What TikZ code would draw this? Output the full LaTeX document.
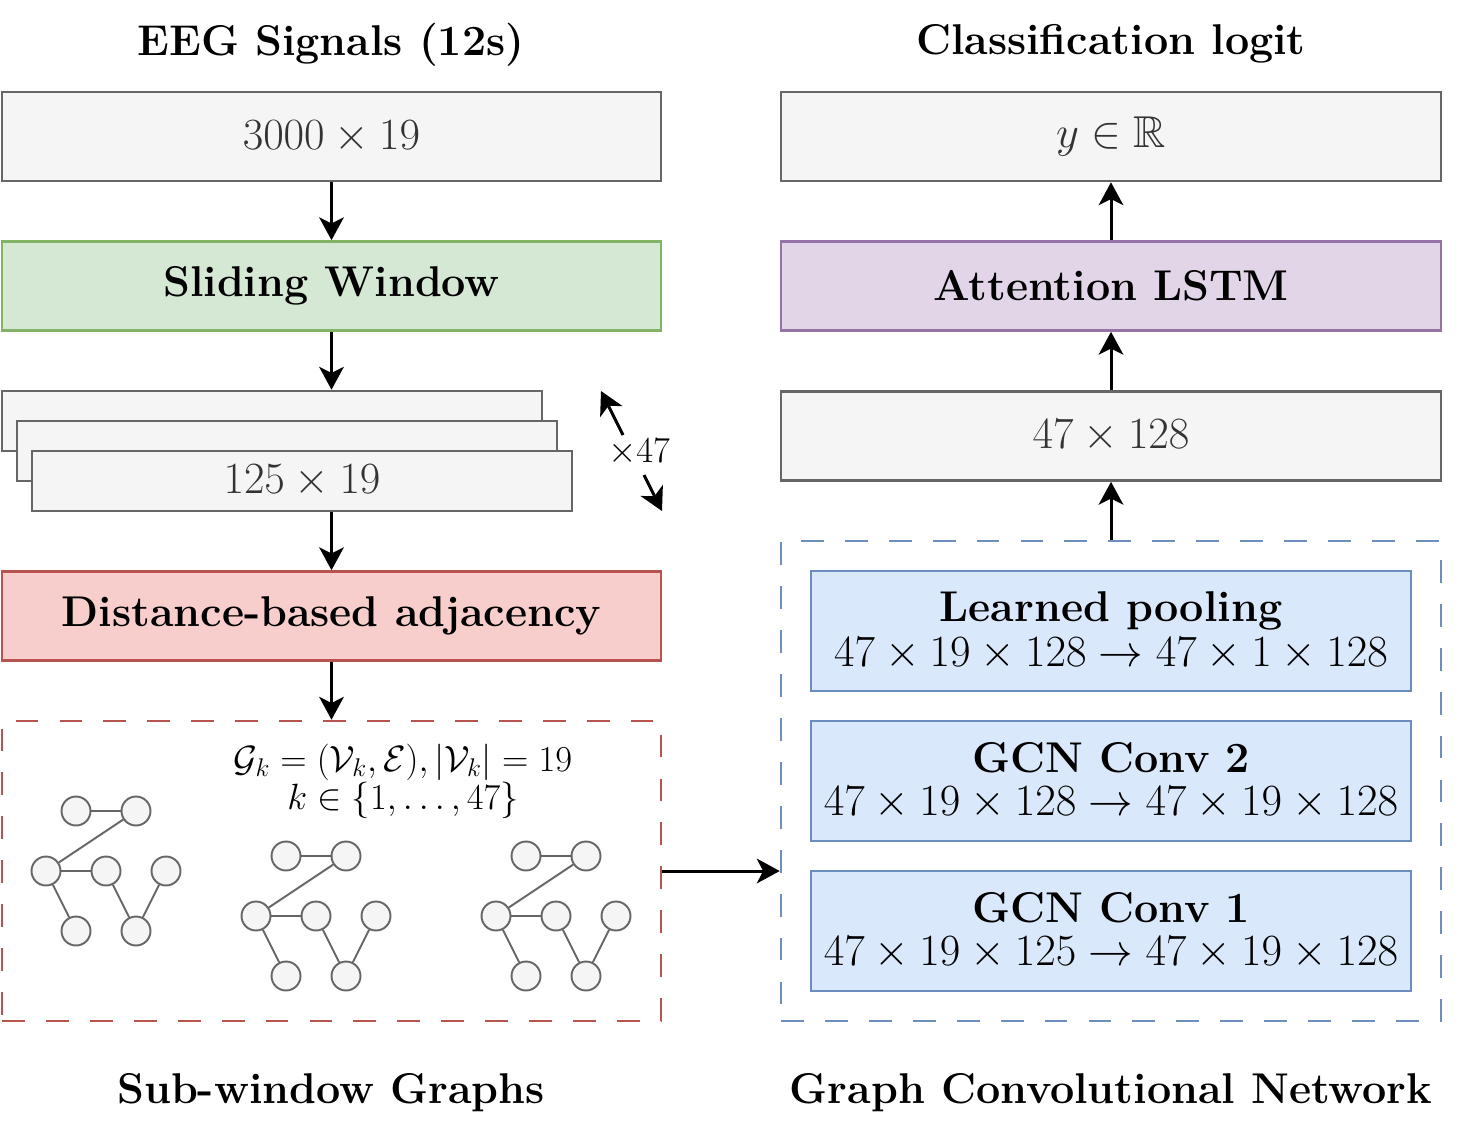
\RequirePackage{fix-cm}
\documentclass[tikz,border=0pt]{standalone}
\usepackage{amssymb}
\usetikzlibrary{arrows.meta,positioning}
\definecolor{grayfill}{HTML}{F5F5F5}
\definecolor{grayline}{HTML}{666666}
\definecolor{graytext}{HTML}{333333}
\definecolor{greenfill}{HTML}{D5E8D4}
\definecolor{greenline}{HTML}{82B366}
\definecolor{redfill}{HTML}{F8CECC}
\definecolor{redline}{HTML}{B85450}
\definecolor{purplefill}{HTML}{E1D5E7}
\definecolor{purpleline}{HTML}{9673A6}
\definecolor{bluefill}{HTML}{DAE8FC}
\definecolor{blueline}{HTML}{6C8EBF}
\newcommand{\boldfont}{\fontsize{24.5}{25}\selectfont\bfseries}
\newcommand{\mathfont}{\fontsize{25.4}{26}\selectfont}
\newcommand{\smallfont}{\fontsize{20.8}{19.5}\selectfont}
\begin{document}
\begin{tikzpicture}[x=0.02cm,y=-0.02cm,
    block/.style={rectangle, line width=1.5pt, inner sep=0pt, minimum width=13.18cm, minimum height=1.78cm, font=\boldfont},
    plainbox/.style={block, draw=grayline, fill=grayfill, text=graytext, font=\mathfont},
    winbox/.style={plainbox, minimum width=10.8cm, minimum height=1.2cm},
    convbox/.style={block, draw=blueline, fill=bluefill, minimum width=12cm, minimum height=2.4cm, align=center},
    group/.style={rectangle, line width=1.5pt, dash pattern=on 13pt off 12pt, inner sep=0pt},
    title/.style={font=\boldfont},
    arr/.style={-{Stealth[length=13pt,width=14pt,inset=3.5pt]}, line width=1.7pt},
    vtx/.style={circle, draw=grayline, fill=grayfill, line width=1.1pt, minimum size=0.58cm, inner sep=0pt},
    link/.style={draw=grayline, line width=1.1pt}]
    \useasboundingbox (0,0) rectangle (1473,1140);
    % left column
    \node[title] (ttl1) at (331,45) {EEG Signals (12s)};
    \node[plainbox] (raw) at (331.5,136.5) {$3000\times 19$};
    \node[block, draw=greenline, fill=greenfill] (slide) at (331.5,286) {Sliding Window};
    \node[winbox] (win1) at (272,421) {};
    \node[winbox] (win2) at (287,451) {};
    \node[winbox] (win3) at (302,481) {$125\times 19$};
    \node[font=\smallfont] (times) at (639,452) {$\times 47$};
    \coordinate (up0) at (623,435);
    \coordinate (up1) at (601,391);
    \coordinate (dn0) at (644,475);
    \coordinate (dn1) at (662,511);
    \node[block, draw=redline, fill=redfill] (dist) at (331.5,616) {Distance-based adjacency};
    \node[group, draw=redline, minimum width=13.18cm, minimum height=6cm] (graphs) at (331.5,871) {};
    \node[font=\smallfont, align=center] (gdef) at (403,781) {$\mathcal{G}_k=(\mathcal{V}_k,\mathcal{E}),|\mathcal{V}_k|=19$\\$k\in\{1,\ldots,47\}$};
    \node[title] (ttl3) at (331,1093) {Sub-window Graphs};
    % sub-window graph 1
    \node[vtx] (a1) at (76,811) {};  \node[vtx] (a2) at (136,811) {};
    \node[vtx] (a3) at (46,871) {};  \node[vtx] (a4) at (106,871) {};  \node[vtx] (a5) at (166,871) {};
    \node[vtx] (a6) at (76,931) {};  \node[vtx] (a7) at (136,931) {};
    \draw[link] (a1) -- (a2);  \draw[link] (a2) -- (a3);  \draw[link] (a3) -- (a4);
    \draw[link] (a3) -- (a6);  \draw[link] (a4) -- (a7);  \draw[link] (a5) -- (a7);
    % sub-window graph 2
    \node[vtx] (b1) at (286,856) {};  \node[vtx] (b2) at (346,856) {};
    \node[vtx] (b3) at (256,916) {};  \node[vtx] (b4) at (316,916) {};  \node[vtx] (b5) at (376,916) {};
    \node[vtx] (b6) at (286,976) {};  \node[vtx] (b7) at (346,976) {};
    \draw[link] (b1) -- (b2);  \draw[link] (b2) -- (b3);  \draw[link] (b3) -- (b4);
    \draw[link] (b3) -- (b6);  \draw[link] (b4) -- (b7);  \draw[link] (b5) -- (b7);
    % sub-window graph 3
    \node[vtx] (c1) at (526,856) {};  \node[vtx] (c2) at (586,856) {};
    \node[vtx] (c3) at (496,916) {};  \node[vtx] (c4) at (556,916) {};  \node[vtx] (c5) at (616,916) {};
    \node[vtx] (c6) at (526,976) {};  \node[vtx] (c7) at (586,976) {};
    \draw[link] (c1) -- (c2);  \draw[link] (c2) -- (c3);  \draw[link] (c3) -- (c4);
    \draw[link] (c3) -- (c6);  \draw[link] (c4) -- (c7);  \draw[link] (c5) -- (c7);
    % right column
    \node[title] (ttl2) at (1111,44) {Classification logit};
    \node[plainbox, minimum width=13.2cm] (out) at (1111,136.5) {$y\in\mathbb{R}$};
    \node[block, minimum width=13.2cm, draw=purpleline, fill=purplefill] (lstm) at (1111,286) {Attention LSTM};
    \node[plainbox, minimum width=13.2cm] (feat) at (1111,436) {$47\times 128$};
    \node[group, draw=blueline, minimum width=13.2cm, minimum height=9.6cm] (gcn) at (1111,781) {};
    \node[convbox, font=\fontsize{25.4}{25.5}\selectfont] (pool) at (1111,631) {{\fontsize{24.5}{25}\selectfont\bfseries Learned pooling}\\$47\times 19\times 128\rightarrow 47\times 1\times 128$};
    \node[convbox, font=\fontsize{25.4}{24.5}\selectfont] (conv2) at (1111,781) {{\fontsize{24.5}{25}\selectfont\bfseries GCN Conv 2}\\$47\times 19\times 128\rightarrow 47\times 19\times 128$};
    \node[convbox, font=\fontsize{25.4}{24.5}\selectfont] (conv1) at (1111,931) {{\fontsize{24.5}{25}\selectfont\bfseries GCN Conv 1}\\$47\times 19\times 125\rightarrow 47\times 19\times 128$};
    \node[title] (ttl4) at (1111,1093) {Graph Convolutional Network};
    % connectors
    \draw[arr] (raw) -- (slide);
    \draw[arr] (slide.south) -- (slide.south |- win1.north);
    \draw[arr] (slide.south |- win3.south) -- (dist.north);
    \draw[arr] (dist) -- (graphs);
    \draw[arr] (up0) -- (up1);
    \draw[arr] (dn0) -- (dn1);
    \draw[arr] (graphs.east) -- (graphs.east -| gcn.west);
    \draw[arr] (gcn) -- (feat);
    \draw[arr] (feat) -- (lstm);
    \draw[arr] (lstm) -- (out);
\end{tikzpicture}
\end{document}
